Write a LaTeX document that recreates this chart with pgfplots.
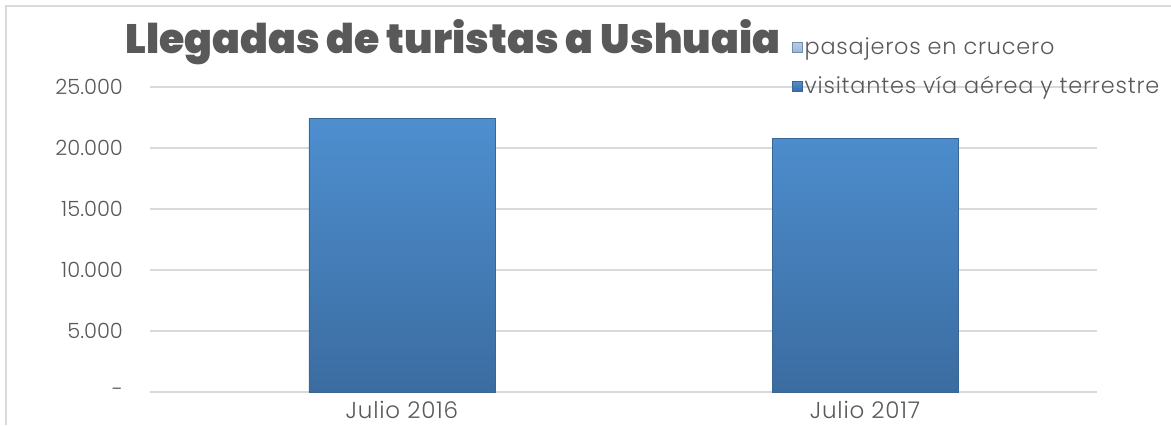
\documentclass[border=0pt]{standalone}
\usepackage{pgfplots}
\pgfplotsset{compat=1.18}
\usepackage{fontspec}
\setmainfont{Poppins Light}
\newfontfamily\titlefont{Poppins Black}
\newfontfamily\widefont{Poppins Light}[LetterSpace=3.5]
\definecolor{txt}{HTML}{595959}
\definecolor{gridc}{HTML}{D9D9D9}
\definecolor{bartop}{HTML}{4E8FD0}
\definecolor{barbot}{HTML}{3B6CA0}
\definecolor{bardraw}{HTML}{3A6695}
\definecolor{legA}{HTML}{9DB5D3}
\definecolor{legAd}{HTML}{6F8DB3}
\begin{document}
\begin{tikzpicture}
\useasboundingbox (0,0) rectangle (585.5pt,212.5pt);
\draw[gridc, line width=1pt] (3pt,0) -- (3pt,209.5pt) -- (585.5pt,209.5pt);
\node[anchor=base west, font=\titlefont\fontsize{20.5}{24}\selectfont, text=txt, inner sep=0pt]
  at (62.5pt, 186pt) {Llegadas de turistas a Ushuaia};
\begin{axis}[
  at={(75pt,16.5pt)}, anchor=south west,
  scale only axis, width=473.5pt, height=152.5pt,
  xmin=-0.544, xmax=1.501, ymin=0, ymax=25000,
  scaled y ticks=false,
  axis line style={draw=none},
  ytick={0,5000,10000,15000,20000,25000},
  yticklabels={-,5.000,10.000,15.000,20.000,25.000},
  xtick={0,1}, xticklabels={Julio 2016, Julio 2017},
  major tick length=0pt,
  ymajorgrids, grid style={gridc, line width=1pt},
  tick label style={font=\fontsize{10.5}{12}\selectfont, text=txt},
  yticklabel style={anchor=east, xshift=-10pt},
  xticklabel style={yshift=-1pt, font=\widefont\fontsize{11.5}{12}\selectfont},
  clip=false,
  legend image code/.code={\draw[#1, line width=0.3pt] (0pt,-2.4pt) rectangle (4.8pt,2.4pt);},
  legend style={at={(0.678,1.17)}, anchor=north west, draw=none, fill=none,
    font=\widefont\fontsize{11.2}{12}\selectfont, text=txt, row sep=7.5pt,
    inner sep=0pt, nodes={inner sep=1pt}},
  legend cell align=left,
]
\addlegendimage{legend image code/.code={\draw[draw=legAd, top color=legA!70!white, bottom color=legA, line width=0.3pt] (0pt,-2.4pt) rectangle (4.8pt,2.4pt);}}
\addlegendentry{pasajeros en crucero}
\addplot[ybar, bar width=93pt, bar shift=0pt, draw=bardraw, line width=0.4pt,
  top color=bartop, bottom color=barbot] coordinates {(0,22450) (1,20800)};
\addlegendentry{visitantes vía aérea y terrestre}
\end{axis}
\end{tikzpicture}
\end{document}
